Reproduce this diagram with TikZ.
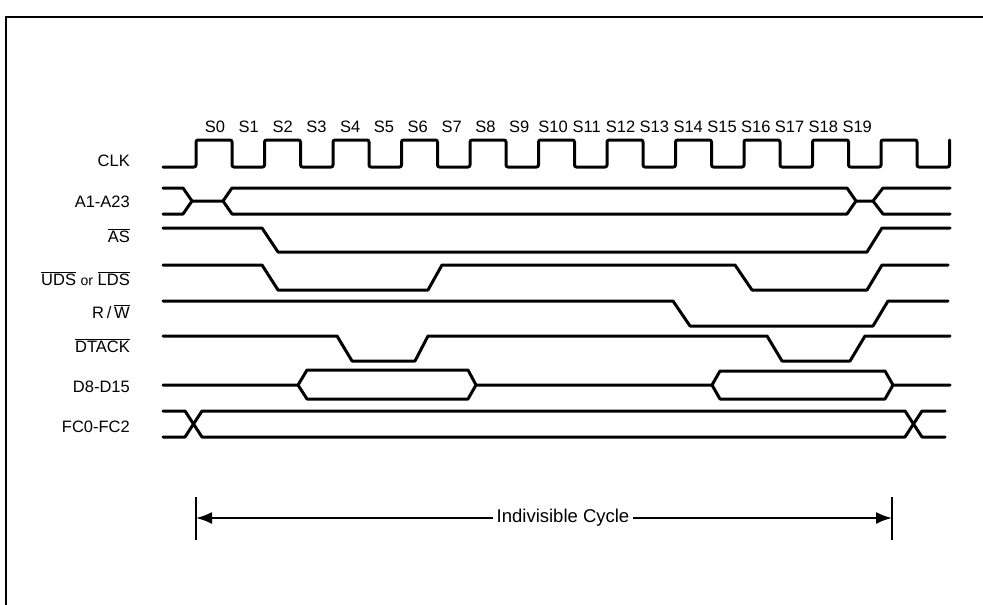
\documentclass[tikz,border=0pt]{standalone}
\usepackage{fontspec}
\setmainfont{Liberation Sans}
\usetikzlibrary{arrows.meta}
\newcommand{\ovl}[1]{$\overline{\mbox{#1}}$}
\begin{document}
\begin{tikzpicture}[x=1pt, y=-1pt, >={Latex[length=16pt, width=12pt]}]
	\tikzset{
		sig/.style={line width=3pt, line join=round, line cap=round},
		lbl/.style={anchor=base east, inner sep=0, font=\fontsize{16.5}{18}\selectfont},
		st/.style={anchor=base, inner sep=0, font=\fontsize{16.5}{18}\selectfont},
	}
	\useasboundingbox (0,0) rectangle (983,605);
	\draw[line width=1.5pt] (6,605) -- (6,17) -- (983,17);
	\pgfmathsetmacro{\T}{68.5}
	\foreach \k in {0,...,19}
		{
			\node[st] (s\k) at ({215+33.8*\k},132) {S\k};
		}
	\node[lbl] (clk) at (130,166) {CLK};
	\node[lbl] (addr) at (130,207) {A1-A23};
	\node[lbl] (as) at (130,242) {\ovl{AS}};
	\node[lbl] (ds) at (130,285) {\ovl{UDS} {\fontsize{14}{16}\selectfont or} \ovl{LDS}};
	\node[lbl] (rw) at (130,318) {R\,/\,\ovl{W}};
	\node[lbl] (dtack) at (130,352) {\ovl{DTACK}};
	\node[lbl] (data) at (130,392) {D8-D15};
	\node[lbl] (fc) at (130,432) {FC0-FC2};
	\draw[sig, rounded corners=2pt] (163,167) foreach \k in {0,...,10} {
			-- ({196+\T*\k},167) |- ({232+\T*\k},140) -- ({232+\T*\k},167)
		} -- (949.5,167) -- (949.5,140);
	\draw[sig] (163,188) -- (183,188) -- (192,201) -- (223,201) -- (232,188) -- (847,188)
		-- (856,201) -- (873,201) -- (883,188) -- (950,188);
	\draw[sig] (163,214) -- (183,214) -- (192,201) (223,201) -- (232,214) -- (847,214)
		-- (856,201) (873,201) -- (883,214) -- (950,214);
	\draw[sig] (163,228) -- (262,228) -- (278,252) -- (867,252) -- (882,228) -- (950,228);
	\draw[sig] (163,265) -- (262,265) -- (278,290) -- (428,290) -- (442,265) -- (735,265)
		-- (752,290) -- (867,290) -- (882,265) -- (948,265);
	\draw[sig] (163,301) -- (673,301) -- (690,326) -- (873,326) -- (888,301) -- (948,301);
	\draw[sig] (163,336) -- (337,336) -- (352,361) -- (415,361) -- (428,336) -- (767,336)
		-- (782,361) -- (850,361) -- (865,336) -- (950,336);
	\draw[sig] (163,385) -- (298,385) -- (307,370) -- (468,370) -- (476,385) -- (712,385)
		-- (720,371) -- (885,371) -- (893,385) -- (950,385);
	\draw[sig] (298,385) -- (307,399) -- (468,399) -- (476,385)
		(712,385) -- (720,399) -- (885,399) -- (893,385);
	\draw[sig] (163,411) -- (185,411) -- (202,437) -- (905,437) -- (922,411) -- (945,411);
	\draw[sig] (163,437) -- (185,437) -- (202,411) -- (905,411) -- (922,437) -- (945,437);
	\node[font=\fontsize{18.5}{20}\selectfont] (cyc) at (563,518) {Indivisible Cycle};
	\coordinate (cycL) at (196,518);
	\coordinate (cycR) at (892,518);
	\draw[line width=2pt] (cycL) ++(0,-21) -- ++(0,43) (cycR) ++(0,-21) -- ++(0,43);
	\draw[->, line width=2pt] (cyc) -- (cycL);
	\draw[->, line width=2pt] (cyc) -- (cycR);
\end{tikzpicture}
\end{document}
